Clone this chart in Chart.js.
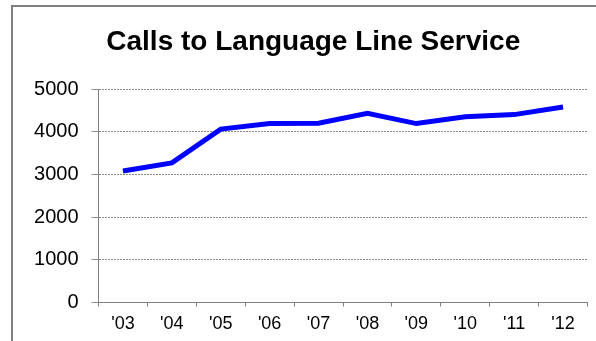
<!DOCTYPE html>
<html>
<head>
<meta charset="utf-8">
<script src="https://cdn.jsdelivr.net/npm/chart.js@4/dist/chart.umd.min.js"></script>
<style>
  html, body { margin: 0; padding: 0; background: #fff; }
  #wrap { position: relative; width: 596px; height: 341px; }
</style>
</head>
<body>
<div id="wrap"><canvas id="calls-chart" width="596" height="341"></canvas></div>
<script>
const years = ["'03", "'04", "'05", "'06", "'07", "'08", "'09", "'10", "'11", "'12"];
const calls = [3080, 3270, 4060, 4190, 4200, 4430, 4190, 4350, 4400, 4580];
const yTicks = [0, 1000, 2000, 3000, 4000, 5000];

const FONT = 'Liberation Sans, Arial, sans-serif';

// outer frame (only top and left edges show inside the canvas)
const framePlugin = {
  id: 'frame',
  beforeDraw(chart) {
    const ctx = chart.ctx;
    ctx.save();
    ctx.strokeStyle = '#808080';
    ctx.lineWidth = 2;
    ctx.beginPath();
    ctx.moveTo(12, 341);
    ctx.lineTo(12, 6);
    ctx.lineTo(596, 6);
    ctx.stroke();
    ctx.restore();
  }
};

// nudge the title box so the heading sits a little right of centre
const titleShift = {
  id: 'titleShift',
  afterLayout(chart) {
    const t = chart.titleBlock;
    if (t) {
      t.left += 14;
      t.right += 14;
    }
  }
};

const config = {
  type: 'line',
  data: {
    labels: years,
    datasets: [{
      label: 'Calls',
      data: calls,
      borderColor: '#0000ff',
      borderWidth: 5,
      pointRadius: 0,
      tension: 0,
      fill: false,
    }],
  },
  options: {
    responsive: false,
    animation: false,
    layout: { padding: { left: 11, right: 8.5, top: 0, bottom: 0 } },
    plugins: {
      legend: { display: false },
      tooltip: { enabled: false },
      title: {
        display: true,
        text: 'Calls to Language Line Service',
        color: '#000',
        font: { family: FONT, size: 28, weight: 'bold' },
        padding: { top: 25, bottom: 30.4 },
      },
    },
    scales: {
      x: {
        offset: true,
        grid: {
          offset: true,
          drawOnChartArea: false,
          color: '#808080',
          tickLength: 4,
        },
        border: { color: '#808080', width: 1 },
        ticks: {
          color: '#000',
          padding: 7,
          font: { family: FONT, size: 18 },
        },
        afterFit(scale) { scale.height = 38.5; },
      },
      y: {
        min: 0,
        max: 5000,
        afterBuildTicks(scale) { scale.ticks = yTicks.map(v => ({ value: v })); },
        grid: {
          color: '#8c8c8c',
          tickLength: 7,
        },
        border: { color: '#808080', width: 1, dash: [2, 1] },
        ticks: {
          color: '#000',
          padding: 13,
          font: { family: FONT, size: 20 },
          callback: v => String(v),
        },
        afterFit(scale) { scale.width = 87.5; },
      },
    },
  },
  plugins: [framePlugin, titleShift],
};

new Chart(document.getElementById('calls-chart').getContext('2d'), config);
</script>
</body>
</html>
